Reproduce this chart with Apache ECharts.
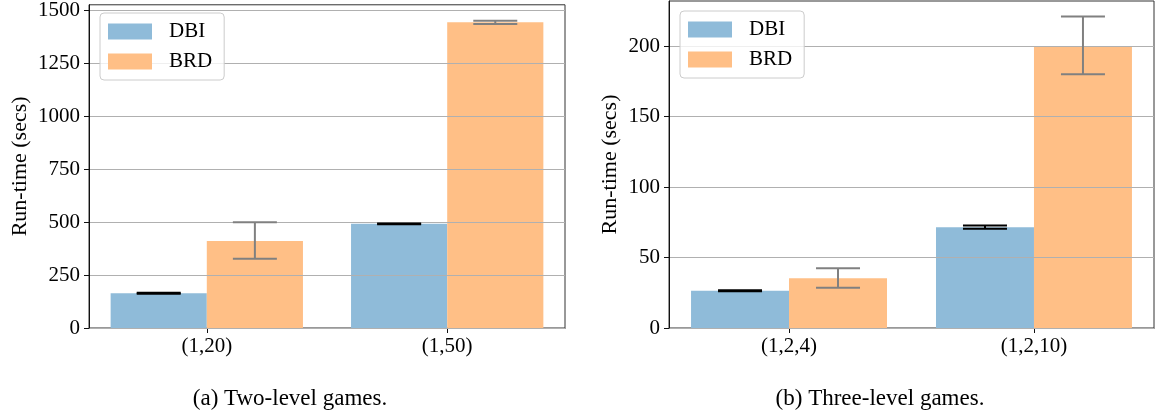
<!DOCTYPE html>
<html>
<head>
<meta charset="utf-8">
<script src="https://cdn.jsdelivr.net/npm/echarts@6/dist/echarts.min.js"></script>
<style>
html,body{margin:0;padding:0;background:#fff;}
#main{width:1155px;height:417px;}
</style>
</head>
<body>
<div id="main"></div>
<script>
// ---- data ----
const groupsA = ['(1,20)', '(1,50)'];
const dbiA = [164, 492];
const dbiALow = [162, 490];
const dbiAHigh = [166, 494];
const brdA = [411, 1444];
const brdALow = [327, 1436];
const brdAHigh = [500, 1452];
const yTicksA = [0, 250, 500, 750, 1000, 1250, 1500];

const groupsB = ['(1,2,4)', '(1,2,10)'];
const dbiB = [26.4, 71.4];
const dbiBLow = [26.1, 70.5];
const dbiBHigh = [26.7, 72.8];
const brdB = [35.3, 200];
const brdBLow = [28.5, 180];
const brdBHigh = [42.4, 221];
const yTicksB = [0, 50, 100, 150, 200];

const seriesNames = ['DBI', 'BRD'];
const captions = ['(a) Two-level games.', '(b) Three-level games.'];
const yName = 'Run-time (secs)';

// ---- style ----
const FONT = 'Liberation Serif';
const BLUE = '#8fbbd9';
const ORANGE = '#ffbf86';
const XMIN = -0.49, XMAX = 1.49;
const gridA = {left: 89, top: 2, width: 476, height: 326};
const gridB = {left: 669, top: 1, width: 485, height: 327};
const barWA = 0.4 * gridA.width / (XMAX - XMIN);
const barWB = 0.4 * gridB.width / (XMAX - XMIN);

function xAxis(gi, cats) {
  return {
    type: 'value', gridIndex: gi, min: XMIN, max: XMAX,
    axisLine: {show: true, onZero: false, lineStyle: {color: '#111', width: 1}},
    axisTick: {show: true, length: 5, customValues: [0, 1], lineStyle: {color: '#111'}},
    axisLabel: {customValues: [0, 1], formatter: v => cats[Math.round(v)] || '',
      fontFamily: FONT, fontSize: 21, color: '#000', margin: 8},
    splitLine: {show: false}
  };
}
function yAxis(gi, max, interval, ticks, gap) {
  return {
    type: 'value', gridIndex: gi, min: 0, max: max, interval: interval, z: 3,
    name: yName, nameLocation: 'middle', nameGap: gap,
    nameTextStyle: {fontFamily: FONT, fontSize: 22, color: '#000'},
    axisLine: {show: true, onZero: false, lineStyle: {color: '#111', width: 1}},
    axisTick: {show: true, length: 5, customValues: ticks, lineStyle: {color: '#111'}},
    axisLabel: {customValues: ticks, formatter: v => String(v),
      fontFamily: FONT, fontSize: 21, color: '#000', margin: 9},
    splitLine: {show: true, lineStyle: {color: '#b0b0b0', width: 1}}
  };
}
function bar(name, gi, vals, color, bw) {
  return {
    name: name, type: 'bar', xAxisIndex: gi, yAxisIndex: gi,
    data: vals.map((v, i) => [i, v]), barWidth: bw, barGap: '0%',
    itemStyle: {color: color}, z: 2, silent: true
  };
}
function err(name, gi, low, high, sign, bw, color) {
  return {
    name: name, type: 'custom', xAxisIndex: gi, yAxisIndex: gi, z: 10, silent: true,
    data: low.map((l, i) => [i, l, high[i]]),
    renderItem: function (params, api) {
      const a = api.coord([api.value(0), api.value(1)]);
      const b = api.coord([api.value(0), api.value(2)]);
      const x = a[0] + sign * bw / 2;
      const cap = 22;
      const st = {stroke: color, lineWidth: 2};
      return {type: 'group', children: [
        {type: 'line', shape: {x1: x, y1: a[1], x2: x, y2: b[1]}, style: st},
        {type: 'line', shape: {x1: x - cap, y1: a[1], x2: x + cap, y2: a[1]}, style: st},
        {type: 'line', shape: {x1: x - cap, y1: b[1], x2: x + cap, y2: b[1]}, style: st}
      ]};
    }
  };
}
function legend(left, top) {
  return {
    data: seriesNames, orient: 'vertical', left: left, top: top, z: 20,
    icon: 'rect', itemWidth: 44, itemHeight: 16, itemGap: 9,
    padding: [8, 12, 8, 8],
    backgroundColor: 'rgba(255,255,255,0.8)', borderColor: '#cccccc', borderWidth: 1, borderRadius: 4,
    textStyle: {fontFamily: FONT, fontSize: 21, color: '#000', padding: [0, 0, 0, 12]},
    selectedMode: false
  };
}

const chart = echarts.init(document.getElementById('main'), null, {renderer: 'canvas'});
chart.setOption({
  animation: false,
  backgroundColor: '#fff',
  textStyle: {fontFamily: FONT, color: '#000'},
  grid: [
    Object.assign({show: true, borderColor: '#333', borderWidth: 1, backgroundColor: 'transparent'}, gridA),
    Object.assign({show: true, borderColor: '#333', borderWidth: 1, backgroundColor: 'transparent'}, gridB)
  ],
  xAxis: [xAxis(0, groupsA), xAxis(1, groupsB)],
  yAxis: [yAxis(0, 1527, 250, yTicksA, 58), yAxis(1, 232, 50, yTicksB, 48)],
  legend: [legend(100, 13), legend(680, 11)],
  series: [
    bar(seriesNames[0], 0, dbiA, BLUE, barWA),
    bar(seriesNames[1], 0, brdA, ORANGE, barWA),
    bar(seriesNames[0], 1, dbiB, BLUE, barWB),
    bar(seriesNames[1], 1, brdB, ORANGE, barWB),
    err('DBI err a', 0, dbiALow, dbiAHigh, -1, barWA, '#000'),
    err('BRD err a', 0, brdALow, brdAHigh, 1, barWA, '#808080'),
    err('DBI err b', 1, dbiBLow, dbiBHigh, -1, barWB, '#000'),
    err('BRD err b', 1, brdBLow, brdBHigh, 1, barWB, '#808080')
  ],
  graphic: [
    {type: 'text', x: 290, y: 399, style: {text: captions[0], font: '23px "Liberation Serif"', fill: '#000', textAlign: 'center', textVerticalAlign: 'middle'}},
    {type: 'text', x: 880, y: 399, style: {text: captions[1], font: '23px "Liberation Serif"', fill: '#000', textAlign: 'center', textVerticalAlign: 'middle'}}
  ]
});
</script>
</body>
</html>
